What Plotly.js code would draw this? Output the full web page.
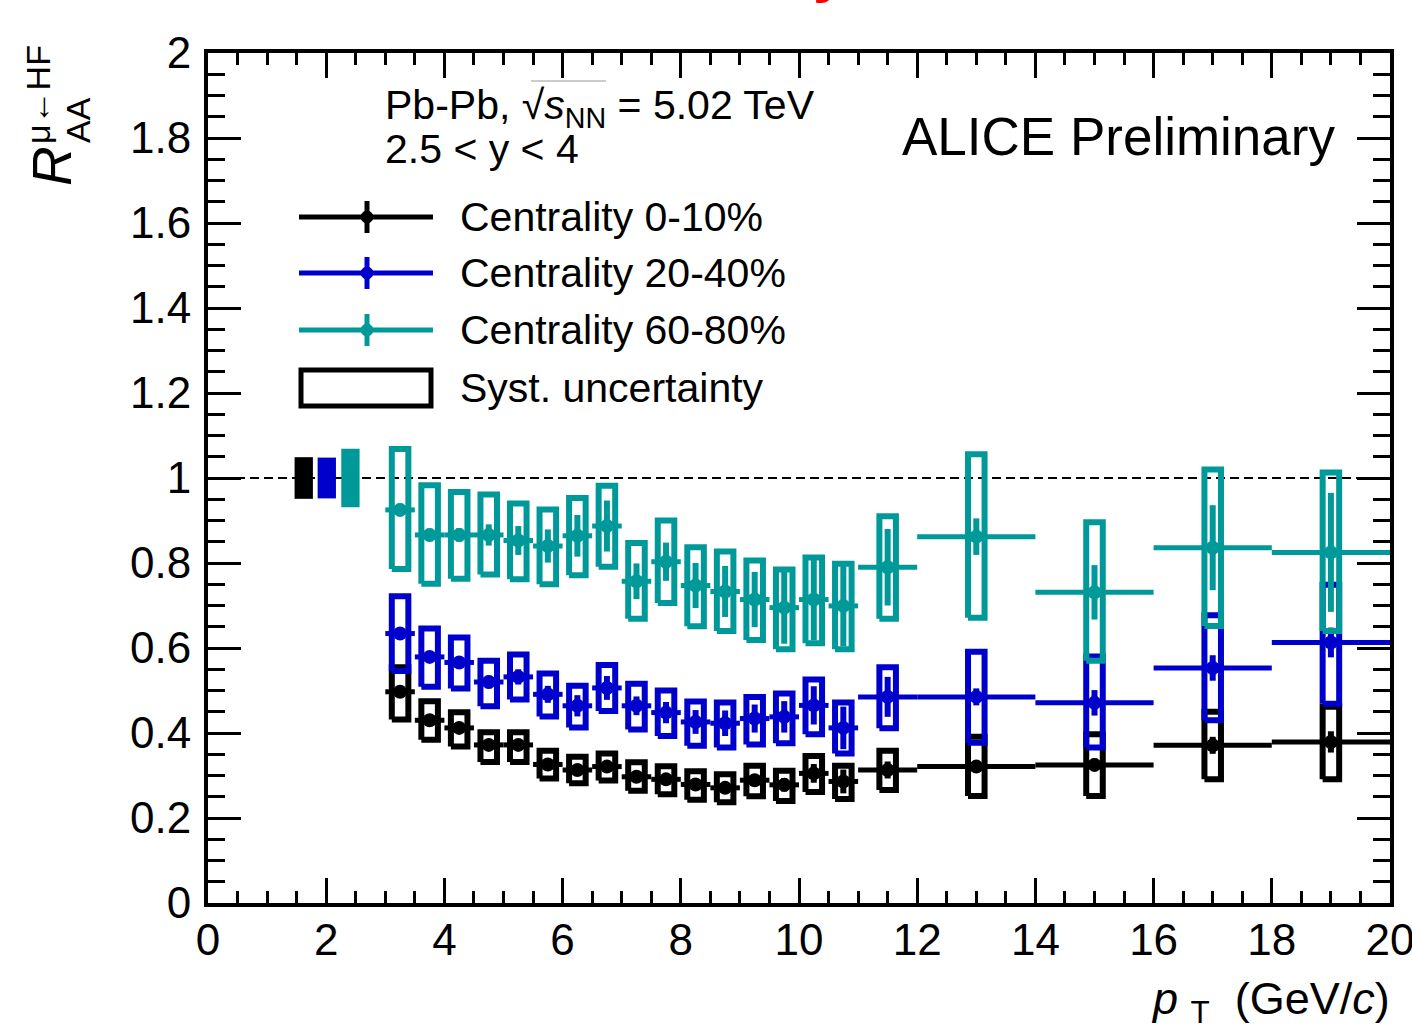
<!DOCTYPE html>
<html>
<head>
<meta charset="utf-8">
<script src="https://cdn.plot.ly/plotly-3.0.1.min.js"></script>
<style>html,body{margin:0;padding:0;background:#fff;}#plot{width:1412px;height:1033px;}</style>
</head>
<body>
<div id="plot"></div>
<script>
// ---------------- data ----------------
const ptCenters = [3.25,3.75,4.25,4.75,5.25,5.75,6.25,6.75,7.25,7.75,8.25,8.75,9.25,9.75,10.25,10.75,11.5,13,15,17,19];
const ptHalfWidth = [0.25,0.25,0.25,0.25,0.25,0.25,0.25,0.25,0.25,0.25,0.25,0.25,0.25,0.25,0.25,0.25,0.5,1,1,1,1];

// Centrality 0-10%
const raa010 = [0.497,0.430,0.412,0.372,0.372,0.326,0.313,0.321,0.297,0.291,0.279,0.271,0.289,0.278,0.305,0.286,0.313,0.321,0.325,0.371,0.379];
const stat010 = [0.008,0.008,0.008,0.008,0.008,0.008,0.009,0.010,0.010,0.011,0.012,0.013,0.014,0.016,0.022,0.028,0.02,0.012,0.015,0.02,0.025];
const sysHi010 = [0.555,0.475,0.449,0.402,0.402,0.358,0.344,0.352,0.331,0.322,0.310,0.303,0.323,0.311,0.346,0.323,0.358,0.391,0.397,0.450,0.462];
const sysLo010 = [0.432,0.384,0.368,0.332,0.332,0.293,0.282,0.288,0.264,0.256,0.243,0.237,0.251,0.240,0.261,0.245,0.266,0.252,0.252,0.291,0.291];

// Centrality 20-40%
const raa2040 = [0.634,0.579,0.566,0.520,0.532,0.491,0.464,0.506,0.464,0.448,0.426,0.423,0.434,0.438,0.465,0.412,0.485,0.485,0.471,0.553,0.613];
const stat2040 = [0.010,0.010,0.012,0.015,0.018,0.020,0.025,0.028,0.022,0.025,0.028,0.030,0.033,0.037,0.045,0.050,0.047,0.020,0.030,0.030,0.035];
const sysHi2040 = [0.722,0.646,0.625,0.570,0.585,0.540,0.511,0.560,0.516,0.500,0.474,0.472,0.485,0.493,0.526,0.472,0.555,0.591,0.580,0.677,0.749];
const sysLo2040 = [0.546,0.509,0.505,0.463,0.479,0.439,0.413,0.452,0.408,0.393,0.370,0.366,0.373,0.376,0.397,0.352,0.411,0.377,0.366,0.430,0.469];

// Centrality 60-80%
const raa6080 = [0.925,0.866,0.866,0.866,0.853,0.840,0.864,0.887,0.757,0.803,0.747,0.733,0.714,0.695,0.714,0.699,0.790,0.862,0.731,0.836,0.825];
const stat6080 = [0.015,0.015,0.016,0.025,0.034,0.039,0.049,0.060,0.042,0.045,0.053,0.060,0.065,0.085,0.096,0.095,0.090,0.043,0.064,0.100,0.140];
const sysHi6080 = [1.068,0.983,0.967,0.961,0.940,0.926,0.953,0.982,0.847,0.900,0.837,0.827,0.806,0.785,0.813,0.798,0.910,1.056,0.896,1.020,1.013];
const sysLo6080 = [0.786,0.751,0.763,0.773,0.762,0.750,0.771,0.791,0.669,0.706,0.651,0.640,0.619,0.597,0.611,0.597,0.669,0.671,0.570,0.652,0.640];

// global normalisation uncertainties (boxes at unity)
const normX = [1.62,2.01,2.41];
const normUnc = [0.049,0.048,0.069];

const seriesNames = ['Centrality 0-10%','Centrality 20-40%','Centrality 60-80%'];
const seriesColors = ['#000000','#0000cc','#009999'];

// ---------------- helpers ----------------
const boxHalf = 0.14;
function boxPath(x, lo, hi){
  const xs=[], ys=[];
  for(let i=0;i<x.length;i++){
    xs.push(x[i]-boxHalf, x[i]+boxHalf, x[i]+boxHalf, x[i]-boxHalf, x[i]-boxHalf, null);
    ys.push(lo[i], lo[i], hi[i], hi[i], lo[i], null);
  }
  return {xs, ys};
}
function sysTrace(lo, hi, color){
  const p = boxPath(ptCenters, lo, hi);
  return {x:p.xs, y:p.ys, type:'scatter', mode:'lines', line:{color:color, width:6}, hoverinfo:'skip', showlegend:false};
}
function ptsTrace(y, stat, color, name){
  return {x:ptCenters, y:y, type:'scatter', mode:'markers', name:name,
    marker:{color:color, size:14, symbol:'circle'},
    error_y:{type:'data', array:stat, visible:true, thickness:6, width:0, color:color},
    error_x:{type:'data', array:ptHalfWidth, visible:true, thickness:5, width:0, color:color},
    showlegend:false};
}

const traces = [
  {x:normX, y:normUnc.map(u=>2*u), base:normUnc.map(u=>1-u), type:'bar', width:0.31,
   marker:{color:seriesColors, line:{width:0}}, hoverinfo:'skip', showlegend:false},
  sysTrace(sysLo010, sysHi010, seriesColors[0]),
  ptsTrace(raa010, stat010, seriesColors[0], seriesNames[0]),
  sysTrace(sysLo2040, sysHi2040, seriesColors[1]),
  ptsTrace(raa2040, stat2040, seriesColors[1], seriesNames[1]),
  sysTrace(sysLo6080, sysHi6080, seriesColors[2]),
  ptsTrace(raa6080, stat6080, seriesColors[2], seriesNames[2])
];

// pixel -> paper helpers (for text/legend placement)
const L=208, R=1390, T=53, B=903;
const xp = px => (px-L)/(R-L);
const yp = py => (B-py)/(B-T);

const FONT = 'Liberation Sans, Arial, Helvetica, sans-serif';
const ann = [];
function txt(text, x, y, size, xanchor, extra){
  ann.push(Object.assign({text:text, xref:'paper', yref:'paper', x:xp(x), y:yp(y), xanchor:xanchor||'left', yanchor:'middle',
    showarrow:false, font:{family:FONT, size:size, color:'#000'}}, extra||{}));
}
txt('Pb-Pb, √<i>s</i><sub>NN</sub> = 5.02 TeV', 383, 108, 41);
txt('2.5 < y < 4', 383, 149, 41);
txt('ALICE Preliminary', 900, 136, 53);
const legY = [217, 273, 330, 388];
txt(seriesNames[0], 458, legY[0], 41);
txt(seriesNames[1], 458, legY[1], 41);
txt(seriesNames[2], 458, legY[2], 41);
txt('Syst. uncertainty', 458, legY[3], 41);
// x axis title
txt('<i>p</i>&nbsp;<sub>T</sub>&nbsp;&nbsp;(GeV/<i>c</i>)', 1392, 1001, 45, 'right');
// y axis title pieces
txt('<i>R</i>', 52, 166, 55, 'center', {textangle:-90});
txt('AA', 78, 120, 34, 'center', {textangle:-90});
txt('μ←HF', 38, 95, 34, 'center', {textangle:-90});
// red fragment of a cut-off line at the very top of the picture
ann.push({text:'<b>y</b>', xref:'paper', yref:'paper', x:xp(830), y:yp(5), xanchor:'center', yanchor:'bottom',
  showarrow:false, borderpad:0, font:{family:FONT, size:60, color:'#ff0000'}});

const shapes = [
  {type:'line', xref:'x', yref:'y', x0:0, x1:20, y0:1, y1:1, line:{color:'#000', width:2, dash:'9px,5px'}, layer:'below'},
  // sqrt overbar
  {type:'line', xref:'paper', yref:'paper', x0:xp(531), x1:xp(606), y0:yp(81), y1:yp(81), line:{color:'#bbbbbb', width:1.5}}
];
// legend glyphs
for(let i=0;i<3;i++){
  const c = seriesColors[i];
  shapes.push({type:'line', xref:'paper', yref:'paper', x0:xp(299), x1:xp(433), y0:yp(legY[i]), y1:yp(legY[i]), line:{color:c, width:5}});
  shapes.push({type:'line', xref:'paper', yref:'paper', x0:xp(367), x1:xp(367), y0:yp(legY[i]-16), y1:yp(legY[i]+16), line:{color:c, width:5}});
  shapes.push({type:'circle', xref:'paper', yref:'paper', x0:xp(361), x1:xp(373), y0:yp(legY[i]-6), y1:yp(legY[i]+6), fillcolor:c, line:{color:c, width:1}});
}
shapes.push({type:'rect', xref:'paper', yref:'paper', x0:xp(301), x1:xp(431), y0:yp(370), y1:yp(406), line:{color:'#000', width:5}, fillcolor:'rgba(0,0,0,0)'});

const axisCommon = {
  ticks:'inside', tickcolor:'#000', tickwidth:3, showline:true, linecolor:'#000', linewidth:4,
  mirror:'ticks', showgrid:false, zeroline:false, ticklabeloverflow:'allow',
  tickfont:{family:FONT, size:44, color:'#000'}, fixedrange:true
};
const layout = {
  width:1412, height:1033,
  margin:{l:L, r:1412-R, t:T, b:1033-B, pad:0},
  paper_bgcolor:'#fff', plot_bgcolor:'#fff',
  showlegend:false, barmode:'overlay',
  xaxis:Object.assign({}, axisCommon, {range:[0,20], tick0:0, dtick:2, ticklen:25, ticklabelstandoff:-5,
    minor:{dtick:0.5, ticklen:12, tickwidth:3, tickcolor:'#000', ticks:'inside', showgrid:false}}),
  yaxis:Object.assign({}, axisCommon, {range:[0,2], tick0:0, dtick:0.2, ticklen:33, ticklabelstandoff:4,
    minor:{dtick:0.05, ticklen:17, tickwidth:3, tickcolor:'#000', ticks:'inside', showgrid:false}}),
  annotations:ann, shapes:shapes
};
Plotly.newPlot('plot', traces, layout, {staticPlot:true, displayModeBar:false});
</script>
</body>
</html>
